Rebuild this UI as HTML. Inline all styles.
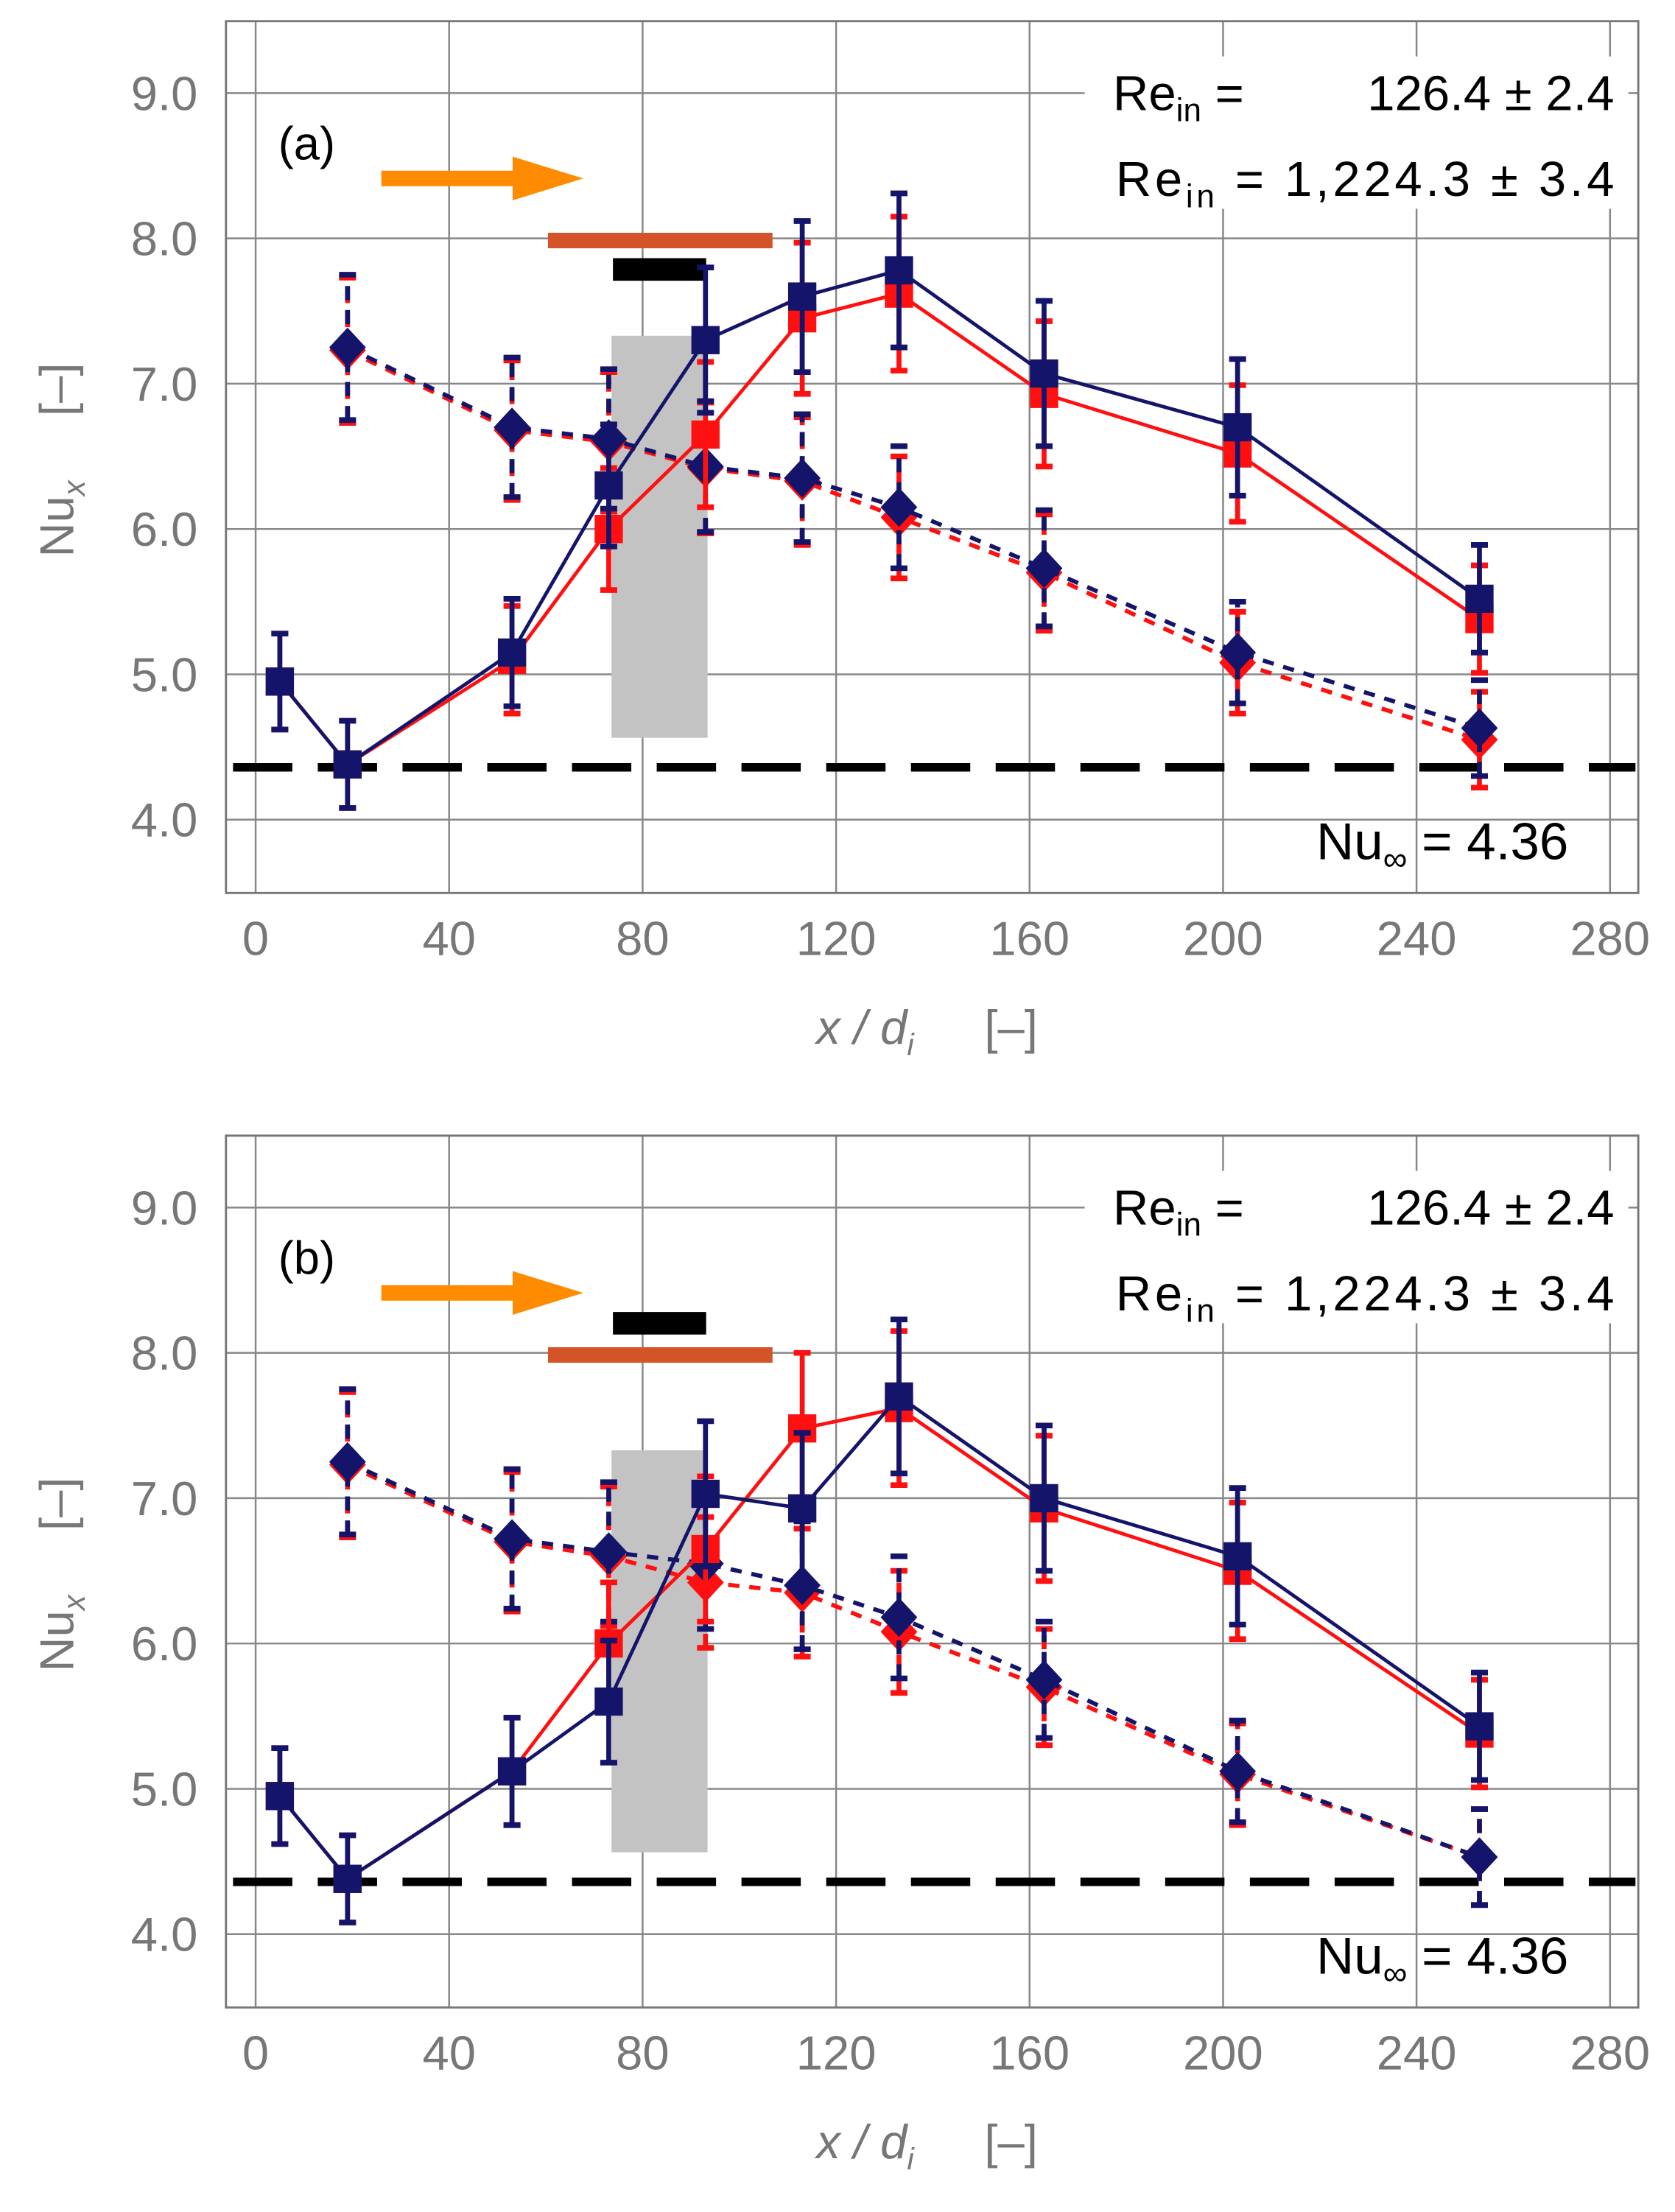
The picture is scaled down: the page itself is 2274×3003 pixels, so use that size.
<!DOCTYPE html>
<html><head><meta charset="utf-8"><style>
html,body{margin:0;padding:0;background:#fff;}
svg{display:block;}
text{font-family:"Liberation Sans",sans-serif;}
</style></head><body>
<svg id="s" width="2274" height="3003" viewBox="0 0 1186 1568" preserveAspectRatio="none" xmlns="http://www.w3.org/2000/svg">
<g id="pa"></g>
<g id="pb"></g>
<g font-size="34" fill="#777">
<text x="140" y="78" text-anchor="end">9.0</text>
<text x="140" y="181" text-anchor="end">8.0</text>
<text x="140" y="284" text-anchor="end">7.0</text>
<text x="140" y="387" text-anchor="end">6.0</text>
<text x="140" y="490" text-anchor="end">5.0</text>
<text x="140" y="593" text-anchor="end">4.0</text>
<text x="181" y="677" text-anchor="middle">0</text>
<text x="318" y="677" text-anchor="middle">40</text>
<text x="455" y="677" text-anchor="middle">80</text>
<text x="592" y="677" text-anchor="middle">120</text>
<text x="729" y="677" text-anchor="middle">160</text>
<text x="866" y="677" text-anchor="middle">200</text>
<text x="1003" y="677" text-anchor="middle">240</text>
<text x="1140" y="677" text-anchor="middle">280</text>
<text x="578" y="740" font-style="italic">x / d<tspan font-size="22" dy="8">i</tspan></text>
<text x="697" y="740">[–]</text>
<text transform="translate(52,395) rotate(-90)">Nu<tspan font-size="22" dy="8" font-style="italic">x</tspan></text>
<text transform="translate(52,295) rotate(-90)">[–]</text>
</g>
<g font-size="34" fill="#777" transform="translate(0,790)">
<text x="140" y="78" text-anchor="end">9.0</text>
<text x="140" y="181" text-anchor="end">8.0</text>
<text x="140" y="284" text-anchor="end">7.0</text>
<text x="140" y="387" text-anchor="end">6.0</text>
<text x="140" y="490" text-anchor="end">5.0</text>
<text x="140" y="593" text-anchor="end">4.0</text>
<text x="181" y="677" text-anchor="middle">0</text>
<text x="318" y="677" text-anchor="middle">40</text>
<text x="455" y="677" text-anchor="middle">80</text>
<text x="592" y="677" text-anchor="middle">120</text>
<text x="729" y="677" text-anchor="middle">160</text>
<text x="866" y="677" text-anchor="middle">200</text>
<text x="1003" y="677" text-anchor="middle">240</text>
<text x="1140" y="677" text-anchor="middle">280</text>
<text x="578" y="740" font-style="italic">x / d<tspan font-size="22" dy="8">i</tspan></text>
<text x="697" y="740">[–]</text>
<text transform="translate(52,395) rotate(-90)">Nu<tspan font-size="22" dy="8" font-style="italic">x</tspan></text>
<text transform="translate(52,295) rotate(-90)">[–]</text>
</g>
</svg>
<script>
const NS="http://www.w3.org/2000/svg";
function el(p,t,a,txt){const e=document.createElementNS(NS,t);for(const k in a)e.setAttribute(k,a[k]);if(txt!==undefined)e.textContent=txt;p.appendChild(e);return e;}
const X=v=>181+v*3.425, Y=v=>581-(v-4)*103;
const xs=[5,19,53,73,93,113,133,163,203,253], xd=xs.slice(1);
const eS=[0.33,0.3,0.37,0.42,0.5,0.52,0.53,0.5,0.47,0.37], eD=[0.5,0.48,0.48,0.45,0.44,0.42,0.4,0.35,0.33];
const B="#14146b",R="#ff1010";
function panel(g,dy,label,data,barOrder){
 g.setAttribute("transform","translate(0,"+dy+")");
 for(let i=0;i<=7;i++){el(g,"line",{x1:X(i*40),x2:X(i*40),y1:15,y2:633,stroke:"#888","stroke-width":1.3});}
 for(let v=4;v<=9;v++){el(g,"line",{x1:160,x2:1160,y1:Y(v),y2:Y(v),stroke:"#888","stroke-width":1.3});}
 el(g,"rect",{x:160,y:15,width:1000,height:618,fill:"none",stroke:"#777","stroke-width":1.5});
 el(g,"rect",{x:768,y:40,width:385,height:108,fill:"#fff"});
 el(g,"rect",{x:433,y:238,width:68,height:285,fill:"#c3c3c3"});
 el(g,"rect",{x:270,y:121,width:95,height:11,fill:"#ff8c00"});
 el(g,"polygon",{points:"363,111 413,126.5 363,142",fill:"#ff8c00"});
 if(barOrder==0){el(g,"rect",{x:388,y:165,width:159,height:11,fill:"#d4542a"});el(g,"rect",{x:434,y:183,width:66,height:16,fill:"#000"});}
 else{el(g,"rect",{x:434,y:140,width:66,height:16,fill:"#000"});el(g,"rect",{x:388,y:165,width:159,height:11,fill:"#d4542a"});}
 el(g,"line",{x1:165,x2:1158,y1:Y(4.36),y2:Y(4.36),stroke:"#000","stroke-width":6,"stroke-dasharray":"42,18"});
 const series=[[xd,data.rd,eD,R,true],[xd,data.bd,eD,B,true],[xs,data.rs,eS,R,false],[xs,data.bs,eS,B,false]];
 for(const [xx,yy,ee,c,dash] of series){
  el(g,"polyline",{points:xx.map((x,i)=>X(x)+","+Y(yy[i])).join(" "),fill:"none",stroke:c,"stroke-width":dash?3:2.5,"stroke-dasharray":dash?"8,7":""});
  xx.forEach((x,i)=>{const cx=X(x),a=Y(yy[i]-ee[i]),b=Y(yy[i]+ee[i]);
   el(g,"line",{x1:cx,x2:cx,y1:a,y2:b,stroke:c,"stroke-width":3.5,"stroke-dasharray":dash?"10,7":""});
   el(g,"line",{x1:cx-6,x2:cx+6,y1:a,y2:a,stroke:c,"stroke-width":4});
   el(g,"line",{x1:cx-6,x2:cx+6,y1:b,y2:b,stroke:c,"stroke-width":4});
   const cy=Y(yy[i]);
   if(dash)el(g,"polygon",{points:`${cx},${cy-14} ${cx+13},${cy} ${cx},${cy+14} ${cx-13},${cy}`,fill:c});
   else el(g,"rect",{x:cx-10,y:cy-10,width:20,height:20,fill:c});
  });
 }
 el(g,"text",{x:197,y:113,"font-size":33,fill:"#000"},label);
 const t1=el(g,"text",{x:788,y:78,"font-size":35,fill:"#000"});t1.innerHTML='Re<tspan font-size="23" dy="8">in</tspan><tspan dy="-8"> =</tspan>';
 el(g,"text",{x:1143,y:78,"font-size":35,fill:"#000","text-anchor":"end"},"126.4 ± 2.4");
 const t2=el(g,"text",{x:790,y:139,"font-size":35,fill:"#000",textLength:353});t2.innerHTML='Re<tspan font-size="23" dy="8">in</tspan><tspan dy="-8"> = 1,224.3 ± 3.4</tspan>';
 const t3=el(g,"text",{x:932,y:609,"font-size":37,fill:"#000"});t3.innerHTML='Nu<tspan font-size="24" dy="8">∞</tspan><tspan dy="-8"> = 4.36</tspan>';
}
panel(document.getElementById("pa"),0,"(a)",{
 bs:[4.95,4.38,5.15,6.3,7.3,7.6,7.78,7.07,6.7,5.52],
 rs:[4.95,4.38,5.1,6.0,6.65,7.45,7.62,6.93,6.52,5.38],
 bd:[7.25,6.7,6.62,6.43,6.35,6.15,5.73,5.15,4.63],
 rd:[7.23,6.68,6.6,6.42,6.33,6.08,5.7,5.08,4.55]},0);
panel(document.getElementById("pb"),790,"(b)",{
 bs:[4.95,4.38,5.12,5.6,7.03,6.93,7.7,7.0,6.6,5.43],
 rs:[4.95,4.38,5.12,6.0,6.65,7.48,7.62,6.93,6.5,5.38],
 bd:[7.25,6.72,6.63,6.55,6.4,6.18,5.75,5.12,4.53],
 rd:[7.23,6.7,6.6,6.42,6.35,6.08,5.7,5.1,4.53]},1);
const s=document.getElementById("s");
[...s.querySelectorAll(":scope > g[font-size]")].forEach(g=>s.appendChild(g));
</script>
</body></html>
